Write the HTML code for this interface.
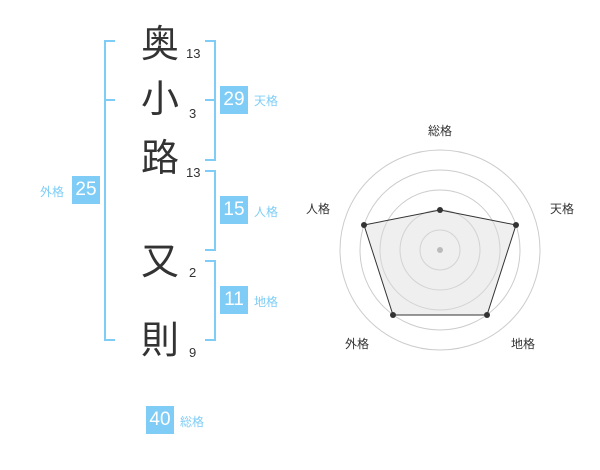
<!DOCTYPE html>
<html><head><meta charset="utf-8"><style>
body{margin:0;width:600px;height:470px;background:#fff;position:relative;font-family:"Liberation Sans","Noto Sans CJK JP",sans-serif;overflow:hidden}
.k{position:absolute;font-size:38px;color:#333;line-height:1;width:44px;text-align:center;left:138px}
.n{position:absolute;font-size:13px;color:#333;line-height:1}
.b{position:absolute;width:28px;height:28px;background:#7fcdf6;color:#fff;font-size:19px;line-height:28px;text-align:center}
.l{position:absolute;font-size:12px;color:#7fcdf6;line-height:1}
.ln{position:absolute;background:#7fcdf6}
</style></head><body>
<div class="k" style="top:26px">奥</div>
<div class="k" style="top:81px">小</div>
<div class="k" style="top:140px">路</div>
<div class="k" style="top:243px">又</div>
<div class="k" style="top:322px">則</div>
<div class="n" style="left:186px;top:47px">13</div>
<div class="n" style="left:189px;top:107px">3</div>
<div class="n" style="left:186px;top:166px">13</div>
<div class="n" style="left:189px;top:266px">2</div>
<div class="n" style="left:189px;top:346px">9</div>
<!-- left bracket -->
<div class="ln" style="left:104px;top:40px;width:2px;height:301px"></div>
<div class="ln" style="left:104px;top:40px;width:11px;height:2px"></div>
<div class="ln" style="left:104px;top:99px;width:11px;height:2px"></div>
<div class="ln" style="left:104px;top:339px;width:11px;height:2px"></div>
<!-- right brackets -->
<div class="ln" style="left:214px;top:40px;width:2px;height:121px"></div>
<div class="ln" style="left:205px;top:40px;width:11px;height:2px"></div>
<div class="ln" style="left:205px;top:99px;width:11px;height:2px"></div>
<div class="ln" style="left:205px;top:159px;width:11px;height:2px"></div>
<div class="ln" style="left:214px;top:170px;width:2px;height:81px"></div>
<div class="ln" style="left:205px;top:170px;width:11px;height:2px"></div>
<div class="ln" style="left:205px;top:249px;width:11px;height:2px"></div>
<div class="ln" style="left:214px;top:260px;width:2px;height:81px"></div>
<div class="ln" style="left:205px;top:260px;width:11px;height:2px"></div>
<div class="ln" style="left:205px;top:339px;width:11px;height:2px"></div>
<div class="b" style="left:220px;top:86px">29</div><div class="l" style="left:254px;top:95px">天格</div>
<div class="b" style="left:220px;top:196px">15</div><div class="l" style="left:254px;top:206px">人格</div>
<div class="b" style="left:220px;top:286px">11</div><div class="l" style="left:254px;top:296px">地格</div>
<div class="b" style="left:72px;top:176px">25</div><div class="l" style="left:40px;top:186px">外格</div>
<div class="b" style="left:146px;top:406px">40</div><div class="l" style="left:180px;top:416px">総格</div>
<svg style="position:absolute;left:0;top:0" width="600" height="470">
<g fill="none" stroke="#ccc" stroke-width="1">
<circle cx="440" cy="250" r="20"/><circle cx="440" cy="250" r="40"/><circle cx="440" cy="250" r="60"/><circle cx="440" cy="250" r="80"/><circle cx="440" cy="250" r="100"/>
</g>
<polygon points="440,210 516,225 487,315 393,315 364,225" fill="rgba(220,220,220,0.45)" stroke="#333" stroke-width="1"/>
<circle cx="440" cy="250" r="3" fill="#bbb"/>
<g fill="#333"><circle cx="440" cy="210" r="3"/><circle cx="516" cy="225" r="3"/><circle cx="487" cy="315" r="3"/><circle cx="393" cy="315" r="3"/><circle cx="364" cy="225" r="3"/></g>
<g font-size="12" fill="#333" font-family="Liberation Sans,Noto Sans CJK JP,sans-serif" text-anchor="middle">
<text x="440" y="135">総格</text><text x="562" y="213">天格</text><text x="318" y="213">人格</text><text x="523" y="348">地格</text><text x="357" y="348">外格</text>
</g>
</svg>
</body></html>
